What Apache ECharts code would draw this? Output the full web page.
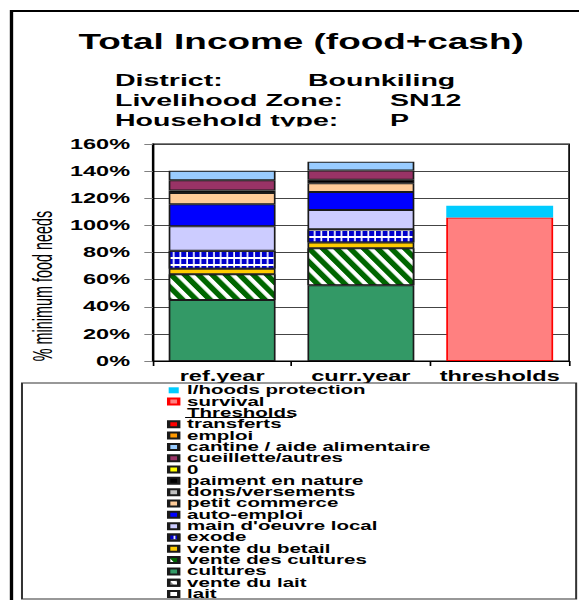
<!DOCTYPE html>
<html><head><meta charset="utf-8">
<script src="https://cdn.jsdelivr.net/npm/echarts@6/dist/echarts.min.js"></script>
<style>
html,body{margin:0;padding:0;background:#fff;overflow:hidden;width:579px;height:600px}
#chart{width:345px;height:600px;transform:scaleX(1.678261);transform-origin:0 0;}
</style></head><body><div id="chart"></div>
<script>
// ---- data ----
const categories = ['ref.year', 'curr.year', 'thresholds'];
const yTicks = [0, 20, 40, 60, 80, 100, 120, 140, 160];
const lait = [0, 0, 0];
const venteDuLait = [0, 0, 0];
const cultures = [45.0, 55.9, 0];
const venteDesCultures = [19.0, 27.3, 0];
const venteDuBetail = [4.1, 4.1, 0];
const exode = [13.1, 9.9, 0];
const mainDoeuvreLocal = [18.2, 14.2, 0];
const autoEmploi = [16.2, 13.3, 0];
const petitCommerce = [8.2, 6.4, 0];
const donsVersements = [0, 0, 0];
const paimentEnNature = [2.0, 2.5, 0];
const zero = [0, 0, 0];
const cueillette = [7.5, 6.8, 0];
const cantine = [6.9, 6.5, 0];
const emploi = [0, 0, 0];
const transferts = [0, 0, 0];
const survival = [0, 0, 105.8];
const lhoodsProtection = [0, 0, 8.6];

const seriesList = [
  ['lait', lait], ['vente du lait', venteDuLait], ['cultures', cultures],
  ['vente des cultures', venteDesCultures], ['vente du betail', venteDuBetail],
  ['exode', exode], ["main d'oeuvre local", mainDoeuvreLocal], ['auto-emploi', autoEmploi],
  ['petit commerce', petitCommerce], ['dons/versements', donsVersements],
  ['paiment en nature', paimentEnNature], ['0', zero], ['cueillette/autres', cueillette],
  ['cantine / aide alimentaire', cantine], ['emploi', emploi], ['transferts', transferts],
  ['survival', survival], ['l/hoods protection', lhoodsProtection]
];
const legendOrder = ['l/hoods protection', 'survival', 'Thresholds', 'transferts', 'emploi',
  'cantine / aide alimentaire', 'cueillette/autres', '0', 'paiment en nature', 'dons/versements',
  'petit commerce', 'auto-emploi', "main d'oeuvre local", 'exode', 'vente du betail',
  'vente des cultures', 'cultures', 'vente du lait', 'lait'];

// ---- styles ----
const FONT = '"Liberation Sans", Arial, Helvetica, sans-serif';
const B = '#1a1a1a';
const styles = {
  'lait': {color: '#FFFFFF', borderColor: B},
  'vente du lait': {color: '#FFFFFF', borderColor: B,
    decal: {symbol: 'rect', symbolSize: 1, color: '#8c8c8c', dashArrayX: [1, 0], dashArrayY: [1.2, 2.2], rotation: 1.03}},
  'cultures': {color: '#339966', borderColor: B},
  'vente des cultures': {color: '#006600', borderColor: B,
    decal: {symbol: 'rect', symbolSize: 1, color: '#FFFFFF', dashArrayX: [1, 0], dashArrayY: [2.4, 3.7], rotation: 1.03}},
  'vente du betail': {color: '#FFCC00', borderColor: B},
  'exode': {color: '#FFFFFF', borderColor: B,
    decal: {symbol: 'rect', symbolSize: 1, color: '#0000CC', dashArrayX: [2.8, 0.8], dashArrayY: [4.7, 1.3]}},
  "main d'oeuvre local": {color: '#CCCCFF', borderColor: B},
  'auto-emploi': {color: '#0000FF', borderColor: B},
  'petit commerce': {color: '#FFCC99', borderColor: B},
  'dons/versements': {color: '#C0C0C0', borderColor: B},
  'paiment en nature': {color: '#000000', borderColor: B},
  '0': {color: '#FFFF00', borderColor: B},
  'cueillette/autres': {color: '#993366', borderColor: B},
  'cantine / aide alimentaire': {color: '#99CCFF', borderColor: B},
  'emploi': {color: '#FF9900', borderColor: B},
  'transferts': {color: '#FF0000', borderColor: B},
  'survival': {color: '#FF8080', borderColor: '#FF0000'},
  'l/hoods protection': {color: '#00CCFF', borderColor: '#00CCFF', borderWidth: 0}
};

const series = seriesList.map(([name, vals]) => ({
  name, type: 'bar', stack: 'total', barWidth: '77%', silent: true,
  emphasis: {disabled: true},
  itemStyle: Object.assign({borderWidth: 1}, styles[name]),
  data: vals.map(v => (v === 0 ? null : v))
}));
series.push({name: 'Thresholds', type: 'bar', stack: 'total', data: [], silent: true});

const legendData = legendOrder.map(n => n === 'Thresholds'
  ? {name: n, itemStyle: {color: 'rgba(0,0,0,0)', borderWidth: 0, decal: 'none'}}
  : {name: n});

const chart = echarts.init(document.getElementById('chart'), null, {renderer: 'svg'});
chart.setOption({
  animation: false,
  backgroundColor: '#ffffff',
  grid: {left: 91, right: 5.9, top: 144, bottom: 239, show: true, borderColor: '#000', borderWidth: 1, backgroundColor: 'transparent'},
  xAxis: {
    type: 'category', data: categories,
    axisLine: {lineStyle: {color: '#000', width: 1}},
    axisTick: {show: true, interval: 0, length: 5, lineStyle: {color: '#000'}},
    axisLabel: {interval: 0, margin: 8, color: '#000', fontSize: 14, fontWeight: 'bold', fontFamily: FONT}
  },
  yAxis: {
    type: 'value', min: yTicks[0], max: yTicks[yTicks.length - 1], interval: yTicks[1] - yTicks[0],
    axisLine: {show: true, lineStyle: {color: '#000', width: 1}},
    axisTick: {show: true, length: 5, lineStyle: {color: '#808080'}},
    splitLine: {show: true, lineStyle: {color: '#444', width: 1}},
    axisLabel: {formatter: '{value}%', margin: 13.5, color: '#000', fontSize: 14, fontWeight: 'bold', fontFamily: FONT}
  },
  legend: {
    show: true, orient: 'vertical', left: 99.5, top: 384.3, height: 260, padding: 0, itemGap: -0.68,
    itemWidth: 6, itemHeight: 6, icon: 'rect', selectedMode: false, z: 50,
    data: legendData,
    textStyle: {fontSize: 12.2, fontWeight: 'bold', fontFamily: FONT, color: '#000', lineHeight: 11.35}
  },
  series,
  graphic: [
    {type: 'rect', z: 1, silent: true, shape: {x: 6.85, y: 11, width: 400, height: 700},
     style: {fill: 'none', stroke: '#000', lineWidth: 2}},
    {type: 'text', z: 1, x: 179.4, y: 41, silent: true,
     style: {text: 'Total Income (food+cash)', fontSize: 22, fontWeight: 'bold', fontFamily: FONT, fill: '#000', align: 'center', verticalAlign: 'middle'}},
    {type: 'text', z: 1, x: 68.5, y: 80, silent: true,
     style: {text: 'District:', fontSize: 17, fontWeight: 'bold', fontFamily: FONT, fill: '#000', align: 'left', verticalAlign: 'middle'}},
    {type: 'text', z: 1, x: 183.5, y: 80, silent: true,
     style: {text: 'Bounkiling', fontSize: 17, fontWeight: 'bold', fontFamily: FONT, fill: '#000', align: 'left', verticalAlign: 'middle'}},
    {type: 'text', z: 1, x: 68.5, y: 100, silent: true,
     style: {text: 'Livelihood Zone:', fontSize: 17, fontWeight: 'bold', fontFamily: FONT, fill: '#000', align: 'left', verticalAlign: 'middle'}},
    {type: 'text', z: 1, x: 232.4, y: 100, silent: true,
     style: {text: 'SN12', fontSize: 17, fontWeight: 'bold', fontFamily: FONT, fill: '#000', align: 'left', verticalAlign: 'middle'}},
    {type: 'text', z: 1, x: 68.5, y: 120, silent: true,
     style: {text: 'Household type:', fontSize: 17, fontWeight: 'bold', fontFamily: FONT, fill: '#000', align: 'left', verticalAlign: 'middle'}},
    {type: 'text', z: 1, x: 232.4, y: 120, silent: true,
     style: {text: 'P', fontSize: 17, fontWeight: 'bold', fontFamily: FONT, fill: '#000', align: 'left', verticalAlign: 'middle'}},
    {type: 'rect', z: 2, silent: true, shape: {x: 30, y: 126.5, width: 280, height: 10}, style: {fill: '#fff'}},
    {type: 'text', z: 1, x: 25.5, y: 286, rotation: Math.PI / 2, scaleX: 0.9, silent: true,
     style: {text: '% minimum food needs', fontSize: 16, fontFamily: FONT, fill: '#000', align: 'center', verticalAlign: 'middle'}},
    {type: 'rect', z: 40, silent: true, shape: {x: 13.1, y: 383, width: 330.2, height: 216},
     style: {fill: '#fff', stroke: '#333', lineWidth: 1.2}},
    {type: 'line', z: 60, silent: true, shape: {x1: 110.3, y1: 417.5, x2: 174.5, y2: 417.5},
     style: {stroke: '#000', lineWidth: 1}}
  ]
});
</script></body></html>
